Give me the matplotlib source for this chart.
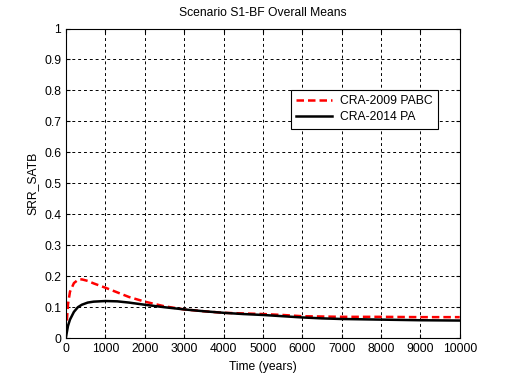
import numpy as np
import matplotlib.pyplot as plt

plt.rcParams['font.family'] = ['Liberation Sans', 'DejaVu Sans']
plt.rcParams['font.size'] = 8.7

# time (years) and the overall means
t = [0, 50, 100, 200, 300, 400, 550, 700, 1000, 1300, 1600, 2000, 2500, 3000,
     3500, 4000, 4500, 5000, 5500, 6000, 6500, 7000, 8000, 9000, 10000]
cra2009 = [0.02, 0.11, 0.15, 0.178, 0.188, 0.19, 0.185, 0.177, 0.163, 0.148,
           0.133, 0.118, 0.103, 0.093, 0.087, 0.082, 0.080, 0.078, 0.075,
           0.071, 0.070, 0.069, 0.069, 0.068, 0.068]
cra2014 = [0.005, 0.04, 0.06, 0.085, 0.100, 0.108, 0.115, 0.118, 0.12, 0.119,
           0.115, 0.108, 0.100, 0.093, 0.087, 0.082, 0.078, 0.075, 0.071,
           0.067, 0.064, 0.062, 0.060, 0.058, 0.057]

fig = plt.figure(figsize=(5.08, 3.8), dpi=100)
ax = fig.add_axes([0.13, 0.11, 0.775, 0.815])

ax.plot(t, cra2009, color='r', ls='--', lw=1.8, dashes=(3, 1.6), label='CRA-2009 PABC')
ax.plot(t, cra2014, color='k', ls='-', lw=1.8, label='CRA-2014 PA')

ax.set_xlim(0, 10000)
ax.set_ylim(0, 1)
ax.set_xticks(range(0, 10001, 1000))
ax.set_yticks(np.arange(0, 1.01, 0.1))
ax.set_yticklabels(['0', '0.1', '0.2', '0.3', '0.4', '0.5', '0.6', '0.7', '0.8', '0.9', '1'])
ax.grid(True, color='k', ls=(0, (3, 3)), lw=0.7)
ax.tick_params(direction='in', top=True, right=True, length=3)

ax.set_title('Scenario S1-BF Overall Means', fontsize=8.7, pad=9)
ax.set_xlabel('Time (years)')
ax.set_ylabel('SRR_SATB')

leg = ax.legend(loc='upper right', bbox_to_anchor=(0.944, 0.802), fancybox=False,
                framealpha=1, edgecolor='k', borderaxespad=0, handlelength=3.0,
                handletextpad=0.6, labelspacing=0.35, borderpad=0.45)
leg.get_frame().set_linewidth(0.8)

fig.savefig('out.png', dpi=100)
